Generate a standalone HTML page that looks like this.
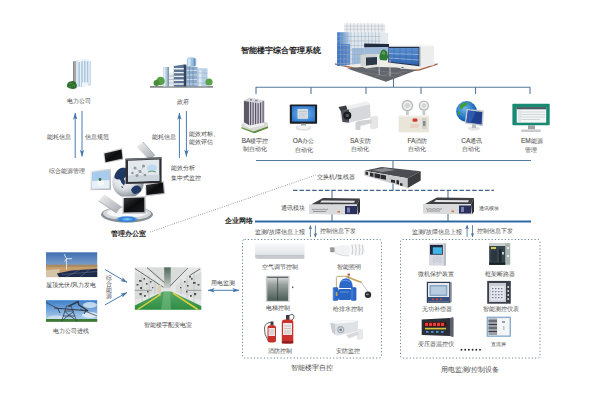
<!DOCTYPE html>
<html><head><meta charset="utf-8">
<style>
html,body{margin:0;padding:0;background:#fff;}
body{width:600px;height:400px;position:relative;overflow:hidden;font-family:"Liberation Sans",sans-serif;}
svg{position:absolute;left:0;top:0;}
.t{position:absolute;white-space:nowrap;color:#7a7a7a;-webkit-text-stroke:0.22px #7a7a7a;letter-spacing:0;}
.b{font-weight:bold;color:#3a3a3a;-webkit-text-stroke:0.55px #3a3a3a;}
.m{color:#707070;-webkit-text-stroke:0.3px #707070;}
.l{font-size:6.5px;-webkit-text-stroke:0.15px #7a7a7a;}
</style></head><body>
<svg width="600" height="400" viewBox="0 0 600 400">
<defs>
<marker id="ah" viewBox="0 0 10 10" refX="9.5" refY="5" markerWidth="7" markerHeight="4.4" orient="auto-start-reverse" markerUnits="userSpaceOnUse" preserveAspectRatio="none"><path d="M0,0 L10,5 L0,10 L2.5,5z" fill="#4677a8"/></marker>
<marker id="ah2" viewBox="0 0 10 10" refX="9.5" refY="5" markerWidth="4.2" markerHeight="3.6" orient="auto-start-reverse" markerUnits="userSpaceOnUse" preserveAspectRatio="none"><path d="M0,0 L10,5 L0,10 L2,5z" fill="#557596"/></marker>
</defs>
<g stroke="#55799b" stroke-width="1.1" fill="none">
<path d="M256,87.3H530.5M256,87V94M311,87V94M366,87V94M421,87V94M475.5,87V94M530,87V94M393.5,76V87"/>
<path d="M256,160.5H531M393,160V190M332,190V221M448,190V221"/>
</g>
<path d="M293,190.3H494" stroke="#45648a" stroke-width="1.3" stroke-dasharray="4.5,1.9" fill="none"/>
<path d="M255,221.5H531" stroke="#2f6aa3" stroke-width="2" fill="none"/>
<g stroke="#6c8494" stroke-width="1" stroke-dasharray="1.2,2.1" fill="none">
<rect x="242.5" y="239.5" width="139" height="118.5" rx="2"/>
<rect x="400.5" y="239.5" width="139.5" height="118.5" rx="2"/>
</g>
<path d="M150,232L316,175" stroke="#777" stroke-width="0.8" stroke-dasharray="0.9,1.4" fill="none"/>
<g stroke="#4a7bb0" stroke-width="1" fill="none">
<path d="M75.2,158V113" marker-end="url(#ah)"/>
<path d="M82,111V156.5" marker-end="url(#ah)"/>
<path d="M179.4,158V113" marker-end="url(#ah)"/>
<path d="M186.4,111V156.5" marker-end="url(#ah)"/>
<path d="M105,269.5L127,282.4" marker-end="url(#ah)"/>
<path d="M105,304.9L127,292.5" marker-end="url(#ah)"/>
<path d="M208,290.3H239" marker-start="url(#ah)" marker-end="url(#ah)"/>
<path d="M310.4,237V225.4" marker-end="url(#ah2)" stroke="#6a86a2"/>
<path d="M315.4,225.4V237.2" marker-end="url(#ah2)" stroke="#6a86a2"/>
<path d="M467.1,237V225.2" marker-end="url(#ah2)" stroke="#6a86a2"/>
<path d="M472.5,225.2V237" marker-end="url(#ah2)" stroke="#6a86a2"/>
</g>

<!-- main building -->
<g id="mainbld">
<defs>
<linearGradient id="mbg1" x1="0" y1="0" x2="1" y2="0"><stop offset="0" stop-color="#3f78c2"/><stop offset="0.45" stop-color="#7da7d8"/><stop offset="1" stop-color="#e6edf4"/></linearGradient>
<linearGradient id="mbg2" x1="0" y1="0" x2="0" y2="1"><stop offset="0" stop-color="#5b8fd0"/><stop offset="1" stop-color="#2f63b0"/></linearGradient>
</defs>
<!-- base slab -->
<polygon points="335,63.2 356,67.8 386,70.5 419,69.2 437.6,63.3 430,61.5 390,60 350,60.5" fill="#f0eee8"/>
<polygon points="335,63.2 356,67.8 386,70.5 419,69.2 437.6,63.3 437.6,64.8 419,70.8 386,72 356,69.3 335,64.7" fill="#a86a52"/>
<!-- plaza -->
<polygon points="347,68.5 386,81.8 416.5,70.2 396,67.5 366,66.5" fill="#62666b"/>
<path d="M356,71.5 L394,77 M368,69 L403,74.5 M375,76.5 L407,71" stroke="#8a8e93" stroke-width="0.4" fill="none"/>
<rect x="400" y="66.2" width="5" height="2.6" rx="1" fill="#dfe4e8"/>
<rect x="401.5" y="67" width="2" height="1" fill="#5a6a7a"/>
<!-- right block -->
<polygon points="388.2,44.5 420,44.2 434.1,45.5 434.1,47.4 419.4,47 388.2,47" fill="#f6f6f4"/>
<polygon points="419.4,46.8 434.1,46.5 434.1,65.2 419.4,66.2" fill="#eceeee"/>
<polygon points="419.4,46.8 421,46.8 421,66.1 419.4,66.2" fill="#c8cccc"/>
<polygon points="388.2,46.8 419.4,46.8 419.4,66.2 388.2,62.5" fill="#23304a"/>
<polygon points="389,48 418.6,48 418.6,65 389,61.8" fill="url(#mbg2)"/>
<path d="M389,53.5 L418.6,54.5 M389,58 L418.6,60" stroke="#a9c6ea" stroke-width="0.7" fill="none"/>
<path d="M394,48V62.5 M400,48V63.3 M406,48V64 M412,48V64.5" stroke="#3a5f9a" stroke-width="0.4" fill="none"/>
<!-- main glass upper tier -->
<polygon points="344,23.2 385.2,23.6 385.2,32.5 344,32.5" fill="#eef1f4"/>
<path d="M344,26.2H385.2 M344,29.3H385.2 M347,23.2V32.5 M350.5,23.2V32.5 M354,23.2V32.5 M357.5,23.2V32.5 M361,23.2V32.5 M364.5,23.3V32.5 M368,23.3V32.5 M371.5,23.4V32.5 M375,23.4V32.5 M378.5,23.5V32.5 M382,23.5V32.5" stroke="#a9b0b8" stroke-width="0.45" fill="none"/>
<!-- main facade -->
<polygon points="337.2,32.2 380.7,32.2 380.7,60 366,63 337.2,66" fill="#dfe7ef"/>
<polygon points="380.7,32.2 388.2,33 388.2,44.5 380.7,47" fill="#e4e8ec"/>
<polygon points="337.2,32.2 352,32.2 352,64.5 337.2,66" fill="url(#mbg1)"/>
<polygon points="337.2,44 350,44 350,64.8 337.2,66" fill="#3d72bd" opacity="0.75"/>
<polygon points="352,48 364,48 364,63.2 352,64.5" fill="#8fb0d8" opacity="0.8"/>
<path d="M337.2,36.5H380.7 M337.2,41H380.7 M337.2,45.5H380.7 M337.2,50H366 M337.2,54.5H366 M337.2,59H366 M337.2,63.5H352 M340.5,32.2V65.7 M344,32.2V65.3 M347.5,32.2V65 M351,32.2V64.6 M354.5,32.2V64.2 M358,32.2V63.9 M361.5,32.2V63.5 M365,32.2V63.1 M368.5,32.2V47 M372,32.2V47 M375.5,32.2V47 M379,32.2V47" stroke="#9aaabb" stroke-width="0.45" fill="none"/>
<!-- dark connector -->
<polygon points="364.2,43.5 389,44 389,47.2 364.2,47.5" fill="#1f2c40"/>
<polygon points="364.2,47.5 388.2,47.2 388.2,54 364.2,54.5" fill="#9fb9d8"/>
<!-- canopy -->
<polygon points="360.5,54.7 377,53.8 377,57 366,57.6 366,66 360.5,66.3" fill="#d2d4d2"/>
<polygon points="366,57.6 377,57 377,64.5 366,66" fill="#2a3848"/>
<polygon points="361,66.3 375,64.8 380,66.5 366,68.5" fill="#e4e2dc"/>
<!-- tree -->
<path d="M380,60 Q378.5,56 380.5,53 Q381,49.5 384,49.5 Q387.5,50.5 387.5,54 Q389,57.5 386.5,60.5z" fill="#2f7a35"/>
<path d="M381.5,54 Q382,51 384,51 Q385.5,52 385,55z" fill="#5a9e4e"/>
<path d="M379.2,58 V75 M390,60 V76" stroke="#d9dcdf" stroke-width="0.7"/>
</g>

<!-- management office -->
<g id="mgmt">
<defs>
<radialGradient id="glob" cx="0.38" cy="0.35" r="0.7"><stop offset="0" stop-color="#ffffff"/><stop offset="0.55" stop-color="#d9dde2"/><stop offset="1" stop-color="#7d848d"/></radialGradient>
<linearGradient id="slv" x1="0" y1="0" x2="1" y2="1"><stop offset="0" stop-color="#f2f3f4"/><stop offset="1" stop-color="#a4a8ad"/></linearGradient>
<linearGradient id="blk" x1="0" y1="0" x2="1" y2="1"><stop offset="0" stop-color="#3a3c40"/><stop offset="0.5" stop-color="#0b0c0e"/><stop offset="1" stop-color="#1c1d20"/></linearGradient>
<radialGradient id="glow" cx="0.5" cy="0.5" r="0.5"><stop offset="0" stop-color="#8fd0ff"/><stop offset="0.6" stop-color="#2a7ad6"/><stop offset="1" stop-color="#2a7ad6" stop-opacity="0"/></radialGradient>
</defs>
<ellipse cx="127" cy="214.5" rx="26" ry="8" fill="#8a9096"/>
<ellipse cx="127" cy="213.5" rx="24" ry="6.6" fill="#d4d7da"/>
<ellipse cx="127" cy="212.8" rx="20" ry="4.8" fill="#f7f8f9"/>
<ellipse cx="127" cy="219.2" rx="12" ry="3.6" fill="url(#glow)"/>
<polygon points="98.5,201 104.5,194.5 121.5,206.5 116.5,213" fill="url(#slv)"/>
<path d="M98.5,201 L116.5,213" stroke="#8d9297" stroke-width="0.6"/>
<circle cx="128" cy="182" r="15.8" fill="url(#glob)"/>
<path d="M114.5,176 Q116,170 121,168 Q126,167 128,169.5 L126,172 Q129,174 127,177 Q125,176 124,179 Q126,182 124,185.5 Q121,183 120,179.5 Q117,180 114.5,178z M121.5,186 q1.5,0 1.5,2 q-1.5,0.5 -1.5,-2z M131,190 Q133,185 138,185.5 Q142,187 141,191 Q137,195 133,193.5z" fill="#1f3763"/>
<polygon points="103,152.6 122.2,148 123.3,159.4 104.8,163.2" fill="url(#slv)"/>
<polygon points="104.3,153.5 121.5,149.5 122.4,158.6 105.6,162.2" fill="url(#blk)"/>
<polygon points="136.5,147 143,142 155,155.5 149.5,160" fill="url(#slv)"/>
<path d="M143,142 L155,155.5" stroke="#8d9297" stroke-width="0.6"/>
<polygon points="90.6,170.7 110.9,168.8 110.9,189.8 90.6,190.2" fill="url(#slv)"/>
<polygon points="92,172 109.5,170.3 109.5,188.4 92,188.8" fill="#a9cbec"/>
<polygon points="92,181 109.5,180 109.5,188.4 92,188.8" fill="#e6eef6"/>
<ellipse cx="100.5" cy="183" rx="3.5" ry="3" fill="#f6f8fa"/>
<circle cx="100" cy="179.5" r="1.4" fill="#2f6f4a"/>
<polygon points="144.7,184 164,181 165,194 145.5,196.4" fill="url(#slv)"/>
<polygon points="146,185 163,182.5 163.8,193 146.5,195" fill="url(#blk)"/>
<polygon points="125.5,158.8 161.6,157.3 161.6,183 125.5,184" fill="#2e3034"/>
<polygon points="125.5,158.8 161.6,157.3 161.6,158.8 125.5,160.3" fill="#6a6d72"/>
<polygon points="128,160.8 159.3,159.6 159.3,180.8 128,181.8" fill="#e3e8ec"/>
<polygon points="128,175.5 159.3,174.8 159.3,180.8 128,181.8" fill="#cdd5dc"/>
<g fill="#8d97a2"><circle cx="135" cy="168" r="1.5"/><circle cx="140" cy="171.5" r="1.5"/><circle cx="137" cy="175.5" r="1.5"/><circle cx="143.5" cy="166" r="1.5"/><circle cx="145" cy="175" r="1.3"/><circle cx="132.5" cy="173" r="1.2"/></g>
<path d="M135,168L140,171.5L137,175.5 M140,171.5L143.5,166 M140,171.5L145,175" stroke="#9aa4ae" stroke-width="0.4" fill="none"/>
<ellipse cx="152" cy="168" rx="5" ry="3.5" fill="#bcdaf0"/>
<path d="M148,172 q4,-2 8,0" stroke="#4a8a5a" stroke-width="0.8" fill="none"/>
<polygon points="122.2,196.6 145.8,196 145.8,213.5 122.2,214" fill="url(#slv)"/>
<polygon points="123.7,198 144.3,197.5 144.3,212 123.7,212.5" fill="url(#blk)"/>
</g>

<!-- distribution room -->
<g id="dist">
<defs>
<linearGradient id="flr" x1="0" y1="0" x2="0" y2="1"><stop offset="0" stop-color="#5aa86a"/><stop offset="1" stop-color="#2e8e42"/></linearGradient>
<linearGradient id="beam" x1="0" y1="0" x2="0" y2="1"><stop offset="0" stop-color="#4f6a5c"/><stop offset="0.5" stop-color="#8a9a90"/><stop offset="1" stop-color="#d0d6d2"/></linearGradient>
<linearGradient id="sky1" x1="0" y1="0" x2="0" y2="1"><stop offset="0" stop-color="#3f6fb2"/><stop offset="0.8" stop-color="#9cb9d8"/><stop offset="1" stop-color="#c9d8e6"/></linearGradient>
<linearGradient id="sky2" x1="0" y1="0" x2="0" y2="1"><stop offset="0" stop-color="#3d7fca"/><stop offset="1" stop-color="#bcd8f0"/></linearGradient>
</defs>
<rect x="134.8" y="267.4" width="66.5" height="42.3" fill="#e4e7e5"/>
<polygon points="134.8,272 160,285 160,292 134.8,300" fill="#d9dcda"/>
<polygon points="201.3,272 176,285 176,292 201.3,300" fill="#d9dcda"/>
<path d="M142,271.5V302.5 M149,275V298.5 M155,279V294.5 M194,271.5V302.5 M187,275V298.5 M181,279V294.5" stroke="#b9bebb" stroke-width="0.6"/>
<polygon points="147,267.4 186,267.4 171,286 164,286" fill="#d9dcda"/>
<rect x="164.2" y="267.4" width="6.5" height="21" fill="url(#beam)"/>
<path d="M134.8,268.5 L163.6,287.4 M147,267.6 L164.5,282.6 M187.8,268 L170,286.2 M200,269 L189.5,275.6" stroke="#5b615f" stroke-width="0.9" fill="none"/>
<path d="M134.8,290.3 H152 M186,290.3 H201.3" stroke="#8f9593" stroke-width="0.9"/>
<g fill="#4d5351">
<rect x="139" y="280" width="2.5" height="1.8"/><rect x="136.5" y="284" width="2" height="1.5"/><rect x="143.5" y="278" width="1.6" height="1.6"/><rect x="144" y="295" width="1.8" height="1.8"/><rect x="150" y="281" width="1.5" height="1.5"/><rect x="197.5" y="284" width="2" height="1.5"/><rect x="191" y="278" width="1.6" height="1.6"/><rect x="190" y="295" width="1.8" height="1.8"/><rect x="184" y="281" width="1.5" height="1.5"/><rect x="140" y="287" width="2" height="2"/><rect x="146" y="283" width="1.6" height="1.6"/><rect x="139.5" y="293" width="2.2" height="2.2"/><rect x="147" y="291" width="1.5" height="1.5"/><rect x="152" y="287" width="1.3" height="1.3"/>
<rect x="193" y="282" width="2.6" height="1.8"/><rect x="194" y="293" width="2.2" height="2.2"/><rect x="187" y="285" width="1.6" height="1.6"/><rect x="186" y="291" width="1.5" height="1.5"/><rect x="180" y="287" width="1.3" height="1.3"/><rect x="189" y="276" width="2" height="1.6"/>
</g>
<polygon points="134.8,305.6 163,291.5 171,291.5 201.3,306 201.3,309.7 134.8,309.7" fill="url(#flr)"/>
<polygon points="164,291.5 170,291.5 171,309.7 161,309.7" fill="#7cc08a" opacity="0.55"/>
<path d="M137.7,309.5 L160.5,294.3 M173,293.2 L197.8,309.5" stroke="#dcd23c" stroke-width="1.5" fill="none"/>
<path d="M158,294.5 q-1.5,-4 0,-9 q2,-1.5 3,0 q1,5 -0.5,9z" fill="#ddd0b8"/>
</g>
<!-- solar -->
<g id="solar">
<rect x="46" y="252.3" width="51.2" height="24.8" fill="url(#sky1)"/>
<rect x="46" y="265.1" width="51.2" height="12" fill="#c79e6a"/>
<rect x="46" y="264.6" width="51.2" height="2.2" fill="#a98a66"/>
<polygon points="46,270 60,269 58,277.1 46,277.1" fill="#d6c4a8"/>
<polygon points="56.8,273.4 71.5,270.6 97.2,268.8 97.2,277.1 59.1,277.1" fill="#1f2b4d"/>
<path d="M66,277 L80,269.8 M80,277 L90,269 M62,274.5 L97,271.5" stroke="#6a7896" stroke-width="0.5" fill="none"/>
<path d="M66.5,258.7 V269.7" stroke="#e8ecf0" stroke-width="0.8"/>
<path d="M66.5,258.7 L64.2,254.1 M66.5,258.7 L72,258.7 M66.5,258.7 L64.6,261.5" stroke="#f4f6f8" stroke-width="0.8" fill="none"/>
</g>
<!-- power line -->
<g id="pline">
<rect x="46" y="300.2" width="51.2" height="21.6" fill="url(#sky2)"/>
<ellipse cx="90" cy="305" rx="7" ry="3" fill="#dce9f6" opacity="0.8"/>
<ellipse cx="90" cy="315" rx="8" ry="3" fill="#e6f0f8" opacity="0.85"/>
<ellipse cx="56" cy="318" rx="9" ry="2.5" fill="#d4e4f2" opacity="0.8"/>
<rect x="46" y="319" width="51.2" height="2.8" fill="#3f7a34"/>
<path d="M46,302.5 L58,308.5 M78,302 L68,307 M80,309 L97,316" stroke="#2a3340" stroke-width="0.7" fill="none"/>
<path d="M61.4,321.8 L66.5,306 L71,306 L77,321.8 M63,316 L75,316 M64.5,311 L73.5,311 M62.5,320 L73.8,311.5 M75.5,320 L64.8,311.5" stroke="#3a424c" stroke-width="0.8" fill="none"/>
<path d="M54.1,308 L88,310.8 M58,309 L60,313 M86,310.5 L84,314" stroke="#333b45" stroke-width="1" fill="none"/>
<path d="M68.8,306 L78,301.5 L79,305 L88,310.8" stroke="#2e3640" stroke-width="1.3" fill="none"/>
</g>

<!-- BA row -->
<g id="ba">
<polygon points="241.5,124 255,118.5 268,123 268,126.5 254,131.5 241.5,127" fill="#d8d8d6"/>
<polygon points="241.5,127 254,131.5 268,126.5 268,128 254,133.2 241.5,128.6" fill="#6f9a4a"/>
<polygon points="254,131.5 268,126.5 268,128 254,133.2" fill="#5e8a3c"/>
<polygon points="243.9,101 249.2,98 249.2,125.5 243.9,122.5" fill="#5b5966"/>
<polygon points="249.2,98 264.6,101 264.6,124 249.2,127" fill="#cfc9d8"/>
<path d="M250.6,98.5V126.7 M253.1,99V126.2 M255.6,99.5V125.7 M258.1,100V125.2 M260.6,100.5V124.7 M263.1,100.8V124.3" stroke="#55525f" stroke-width="1.1"/>
<polygon points="243.9,101 249.2,97.5 264.6,100.6 259,103.2" fill="#d8d8dc"/>
<rect x="250" y="99" width="2" height="1.5" fill="#8a8a90"/><rect x="255" y="99.8" width="2.5" height="1.5" fill="#8a8a90"/>
<polygon points="244.5,122.5 249.2,125.5 264.2,122.5 264.2,125.2 249.2,128.3 244.5,125.3" fill="#f0f0f0"/>
</g>
<g id="oa">
<rect x="289.8" y="104.5" width="27.3" height="19.2" rx="0.8" fill="#1b1e22"/>
<defs><radialGradient id="oascr" cx="0.5" cy="0.5" r="0.6"><stop offset="0" stop-color="#78b8ee"/><stop offset="1" stop-color="#2c78cf"/></radialGradient></defs>
<rect x="291.9" y="106.2" width="23.1" height="15.4" fill="url(#oascr)"/>
<rect x="297.5" y="109" width="10.5" height="9.8" fill="#d8dde2"/>
<path d="M299,111.5H306.5 M299,113.8H306.5 M299,116H305" stroke="#aab3bc" stroke-width="0.5"/>
<rect x="301" y="123.7" width="5" height="2.5" fill="#9ea3a8"/>
<ellipse cx="303.5" cy="128" rx="8" ry="2.7" fill="#dfe1e3"/>
<ellipse cx="303.5" cy="127.3" rx="6" ry="1.6" fill="#f3f4f5"/>
</g>
<g id="sa">
<polygon points="370,117 376,115.5 378,117 378,128 372,129.5 370,128" fill="#e6e6e6"/>
<path d="M357,121 L371,119.5 L372,123 L361,126z" fill="#d2d3d5"/>
<rect x="355.5" y="122" width="5" height="8" rx="1" fill="#cfd0d2"/>
<polygon points="339,107.5 366,101.5 370,103 370.5,117.5 346,123.5 341,121" fill="#eeeff0"/>
<polygon points="346,110 370,104.5 370.5,117.5 346,123.5" fill="#d7d8db"/>
<polygon points="338.5,107 346,105.5 347.5,109.5 341,111.5" fill="#3a3d42"/>
<polygon points="341,111 349,109.5 349,122.5 342.5,122" fill="#494c52"/>
<circle cx="347.3" cy="115.5" r="4" fill="#1a1c20"/>
<circle cx="347.3" cy="115.5" r="1.8" fill="#4d5766"/>
</g>
<g id="fa">
<circle cx="407.4" cy="105.6" r="5.8" fill="#b9bbbd"/>
<circle cx="407.4" cy="105.6" r="4.3" fill="#eceeef"/>
<circle cx="407.4" cy="105.6" r="2.5" fill="#d1d3d5"/>
<circle cx="423.9" cy="105.6" r="5.2" fill="#b9bbbd"/>
<circle cx="423.9" cy="105.6" r="3.8" fill="#eceeef"/>
<circle cx="423.9" cy="105.6" r="2.2" fill="#d1d3d5"/>
<rect x="406" y="111" width="2.8" height="4" fill="#c6c8ca"/>
<rect x="422.5" y="110.5" width="2.8" height="4.5" fill="#c6c8ca"/>
<rect x="398.7" y="115" width="30.3" height="17.3" fill="#e9e5d9"/>
<rect x="398.7" y="115" width="30.3" height="1.6" fill="#f6f4ee"/>
<rect x="412.5" y="118.5" width="5" height="3.2" rx="1.2" fill="#d23a32"/>
<path d="M410,125H419 M410,127H418" stroke="#e09a94" stroke-width="0.5"/>
<rect x="422" y="118" width="4.5" height="11" fill="#cfd0cd"/>
<rect x="423" y="121" width="2.5" height="5" fill="#8a8c8e"/>
</g>
<g id="ca">
<defs><radialGradient id="glb" cx="0.4" cy="0.35" r="0.7"><stop offset="0" stop-color="#6fb6ea"/><stop offset="0.7" stop-color="#1f6cbd"/><stop offset="1" stop-color="#114a94"/></radialGradient></defs>
<circle cx="466.5" cy="111.5" r="10.4" fill="url(#glb)"/>
<path d="M460,105 q3,-3 7,-2.5 q1,2 -1.5,3.5 q-2.5,0.5 -3,3 q-2,1 -2.5,-1.5z M458,111 q2,0 2.5,2.5 q-1,2 -2.5,1z M468,102 q2,-0.5 3.5,0.8 q-1,1 -3.5,-0.8z" fill="#3f9e3a"/>
<ellipse cx="474" cy="128.5" rx="6" ry="2" fill="#e2e4e6"/>
<rect x="472" y="124" width="4" height="4" fill="#b7bbbf"/>
<polygon points="466.5,108.9 483.8,110.6 483,126.2 464.7,123.6" fill="#c5cacf"/>
<polygon points="468,110.5 482.3,112 481.6,124.6 466.3,122.3" fill="#1f3f8f"/>
<polygon points="468,110.5 476,111.3 471,122.8 466.3,122.3" fill="#2f5cb0"/>
</g>
<g id="em">
<rect x="512.4" y="103.7" width="37.3" height="21.6" rx="0.8" fill="#178a72"/>
<rect x="516.7" y="107.1" width="29.5" height="15.6" fill="#f4f6f6"/>
<rect x="516.7" y="107.1" width="29.5" height="2.2" fill="#4a5560"/>
<path d="M518,112H545 M518,114.5H545 M518,117H545 M518,119.5H540" stroke="#b9c2c5" stroke-width="0.6"/>
<rect x="518" y="110.5" width="3" height="11" fill="#dfe4e6"/>
<rect x="528" y="125.3" width="7" height="4" fill="#9ea3a6"/>
<rect x="521" y="129.5" width="20" height="2.4" rx="1" fill="#c9ccce"/>
</g>

<!-- power company bldg -->
<g id="pc">
<polygon points="73,61.5 76.5,60.7 78.6,61.2 78.6,87 76.5,86.5 73,84.8" fill="#a4a8ac"/>
<polygon points="76.2,60.8 78.6,61.2 78.6,87 76.2,86.5" fill="#f2f4f5"/>
<polygon points="73,61.5 73.8,61.3 73.8,85.2 73,84.8" fill="#7d8186"/>
<polygon points="77.5,60.5 84,59 91,60 91,85.5 78.6,87 77.5,86.8" fill="#c8dcec"/>
<polygon points="77.5,60.5 84,59 91,60 91,61.5 84,60.5 78.6,62" fill="#f7f9fb"/>
<path d="M80.5,61.5V86.5 M83.3,61V86.2 M86.2,61V86 M89,61.2V85.7" stroke="#eef4f8" stroke-width="0.9"/>
<path d="M79.2,62V86.6 M82,61.5V86.3 M84.8,61V86.1 M87.6,61.2V85.8" stroke="#8fb0cc" stroke-width="0.6"/>
<rect x="82" y="82.5" width="6" height="3.5" fill="#f2f4f6"/>
<path d="M67,87 Q66.5,82.5 70,81.5 Q73,80.2 75.5,82 Q77.5,84.5 76.5,88 Q72,90.5 67,87z" fill="#2f6e2f"/>
<path d="M69,84 q1.5,-1.5 3,0 M72,86 q1.5,-1.5 3,0 M68.5,87 q1.5,-1 2.5,0" stroke="#5a9e4e" stroke-width="0.7" fill="none"/>
</g>
<!-- government bldg -->
<g id="gov">
<rect x="150" y="86.2" width="63" height="1.4" fill="#6a6f72"/>
<rect x="163.1" y="67" width="5.9" height="19.4" fill="#b4cadc"/>
<rect x="163.6" y="67" width="1.8" height="19.4" fill="#e4eef6"/>
<rect x="167.5" y="67" width="1.5" height="19.4" fill="#7d98b2"/>
<rect x="169" y="72.5" width="6" height="13.9" fill="#e9ecef"/>
<path d="M169,76H175 M169,79.5H175 M169,83H175" stroke="#9aa8b6" stroke-width="0.6"/>
<rect x="197.5" y="68.3" width="10" height="18.1" fill="#b9d0e4"/>
<rect x="199" y="70" width="2.5" height="16" fill="#dde9f3"/>
<path d="M197.5,73H207.5 M197.5,78H207.5 M197.5,83H207.5" stroke="#8eaac4" stroke-width="0.5"/>
<polygon points="173.8,66 184,64.5 184,86.4 173.8,86.4" fill="#5e7693"/>
<path d="M174,68.8H184 M174,72.6H184 M174,76.4H184 M174,80.2H184 M174,84H184" stroke="#eef1f4" stroke-width="1.4"/>
<polygon points="186.2,66 197.5,67 197.5,86.4 186.2,86.4" fill="#8eaccb"/>
<path d="M186.5,70.5H197 M186.5,75H197 M186.5,79.5H197 M186.5,84H197" stroke="#d2e2f0" stroke-width="0.9"/>
<path d="M189.5,66.5V86 M193,66.8V86" stroke="#5d7a98" stroke-width="0.5"/>
<rect x="183.8" y="64.5" width="2.5" height="21.9" fill="#34465c"/>
<rect x="186.9" y="57.6" width="9.4" height="8.8" rx="2.5" fill="#9cc0e0"/>
<rect x="187.8" y="58.5" width="2.8" height="7.5" fill="#d4e6f4"/>
<rect x="193.5" y="58.5" width="1.8" height="7.5" fill="#6f94b8"/>
<circle cx="160.5" cy="81" r="4.3" fill="#5aa24a"/>
<circle cx="156.5" cy="83" r="3" fill="#468d3a"/>
<circle cx="209" cy="82" r="3.6" fill="#5aa24a"/>
</g>
<!-- switch -->
<g id="sw">
<polygon points="364.3,170.7 381.7,166.9 420.7,171.2 407.7,178.3" fill="#4b4d52"/>
<polygon points="372,170 385,168 395,170 382,172" fill="#8a8c90"/>
<polygon points="364.3,170.7 407.7,178.3 407.7,188 364.3,175.5" fill="#c9cbcd"/>
<polygon points="407.7,178.3 420.7,171.2 420.7,180.5 407.7,188" fill="#3a3c40"/>
<g fill="#2a2c30">
<polygon points="365.5,171.5 368,172 368,175 365.5,174.6"/>
<polygon points="370,172.5 373.5,173.2 373.5,177 370,176.3"/>
<polygon points="374.5,173.3 380,174.3 380,178.5 374.5,177.5"/>
<polygon points="380.5,174.5 386,175.5 386,179.8 380.5,178.8"/>
<polygon points="391,179.5 395,180.2 395,183 391,182.3"/>
<polygon points="396.5,180 399,180.5 399,184.5 396.5,184"/>
<polygon points="400,183 402.5,183.5 402.5,186 400,185.5"/>
</g>
</g>
<!-- comm modules -->
<g id="cm1">
<polygon points="311,204.5 323,198 360,198.5 357,204.5" fill="#3e4044"/>
<polygon points="322,200.5 355,200.8 354,202.8 320,202.5" fill="#e4e5e6"/>
<polygon points="309,204.5 358,204.5 358,215 309,214" fill="#d9dadb"/>
<polygon points="357,204.5 360,198.5 360,212 358,215" fill="#2f3135"/>
<rect x="345" y="206" width="12" height="8" fill="#2b2f5e"/>
<rect x="347" y="207.5" width="3" height="5" fill="#7a80b0"/>
<rect x="337.5" y="211" width="2.5" height="1.6" fill="#d8743a"/>
<path d="M312,209 q2,2 4,0 q2,2 4,0 q2,2 4,0 q2,2 4,0 M313,211.5 H326" stroke="#6a6c70" stroke-width="0.6" fill="none"/>
</g>
<use href="#cm1" transform="translate(114,-0.5)"/>

<!-- left box devices -->
<g id="ac">
<defs><linearGradient id="acg" x1="0" y1="0" x2="0" y2="1"><stop offset="0" stop-color="#f7f8f9"/><stop offset="0.7" stop-color="#e3e6e9"/><stop offset="1" stop-color="#b9bdc2"/></linearGradient></defs>
<path d="M256.5,243.5 H303 Q304.5,243.5 304.5,245 V257.5 Q304.5,258.8 303,258.8 H257.5 Q255,258.8 255,256.5 V245.5 Q255,243.5 256.5,243.5z" fill="url(#acg)"/>
<path d="M255.5,255.8 H304" stroke="#a5a9ae" stroke-width="0.6"/>
<path d="M255.5,244 H304" stroke="#fafbfc" stroke-width="0.8"/>
</g>
<g id="elev">
<rect x="265.8" y="275.8" width="23.7" height="26" fill="#c9ccce"/>
<defs><linearGradient id="elg" x1="0" y1="0" x2="0" y2="1"><stop offset="0" stop-color="#d9dcdc"/><stop offset="0.3" stop-color="#9aa29f"/><stop offset="1" stop-color="#4a5c56"/></linearGradient></defs>
<rect x="267.3" y="277.3" width="20.7" height="23.5" fill="url(#elg)"/>
<path d="M277.65,277.3V300.8" stroke="#2e3d38" stroke-width="0.7"/>
<path d="M267.3,277.3H288" stroke="#4a4f52" stroke-width="1"/>
<rect x="292" y="286.5" width="1.3" height="1.6" fill="#555"/>
</g>
<g id="bulb">
<rect x="329.9" y="247.3" width="5" height="5" rx="1" fill="#a4a6a8"/>
<path d="M331,248.3H334 M331,250H334 M331,251.5H334" stroke="#6d7073" stroke-width="0.4"/>
<path d="M334.8,246.5 Q342,244.5 349.5,245 V256 Q342,256.5 334.8,253z" fill="#f1f2f3"/>
<path d="M334.8,253 Q342,256.5 349.5,256" stroke="#c9cbcd" stroke-width="0.6" fill="none"/>
<rect x="349.4" y="244" width="15.4" height="11.4" rx="4.5" fill="#f5f6f7"/>
<path d="M352,244.5 Q353.5,249.7 352,255 M355.5,244.3 Q357,249.7 355.5,255.2 M359,244.3 Q360.5,249.7 359,255.2 M362.3,244.8 Q363.5,249.7 362.3,254.8" stroke="#b8bbbe" stroke-width="0.7" fill="none"/>
</g>
<g id="valve">
<path d="M336.4,296 V277.5 Q336.6,276.3 338,276.3 H348" stroke="#bfa060" stroke-width="0.9" fill="none"/>
<path d="M346,276.5 L361.6,282.6" stroke="#c4a45a" stroke-width="1.6" fill="none"/>
<path d="M361.6,282.6 L368,292" stroke="#8c8a80" stroke-width="0.5" fill="none"/>
<circle cx="368" cy="294.8" r="3.2" fill="#2a2c30"/>
<ellipse cx="367.4" cy="294.3" rx="1.6" ry="0.9" fill="#8a8d92"/>
<rect x="347.5" y="273.5" width="2.6" height="2" rx="0.8" fill="#c8504a"/>
<rect x="348.2" y="275.3" width="1.2" height="3" fill="#9a8a70"/>
<path d="M339.2,288 Q339,279 346,278.3 Q352.8,279 352.8,288z" fill="#2c68c8"/>
<rect x="338" y="289" width="13.5" height="11" rx="2" fill="#2a64c2"/>
<rect x="332.8" y="287.2" width="5.4" height="13.6" rx="1.2" fill="#2b66c6"/>
<rect x="351" y="287.2" width="5.4" height="13.6" rx="1.2" fill="#2b66c6"/>
<path d="M333.8,288.5V299.5 M352,288.5V299.5" stroke="#6aa2ec" stroke-width="0.7"/>
<path d="M341,281 Q346,279.3 350,281.5 M340,292 H349" stroke="#6aa6f0" stroke-width="0.8" fill="none"/>
<rect x="335.8" y="292" width="1.6" height="4" fill="#c8a858"/>
</g>
<g id="fire">
<path d="M272,322.5 Q265,322 264.5,328 Q264,335 268,340" stroke="#3a3a3a" stroke-width="0.8" fill="none"/>
<rect x="270.5" y="321.5" width="3" height="4" fill="#3a3c3e"/>
<rect x="267.5" y="325.3" width="8.5" height="17.3" rx="2.5" fill="#c8302c"/>
<rect x="268.5" y="328" width="6.5" height="8" fill="#ece6e4"/>
<path d="M269,330H274.5 M269,332H274.5 M269,334H274" stroke="#9a8a88" stroke-width="0.4"/>
<path d="M288,316 Q293,313 294,316 Q294.5,318 292,320" stroke="#3a3a3a" stroke-width="0.8" fill="none"/>
<rect x="286" y="315" width="3.5" height="5" fill="#3a3c3e"/>
<rect x="281.8" y="319.6" width="11.5" height="23.9" rx="3" fill="#cc322d"/>
<rect x="283" y="323" width="9" height="12" fill="#ede8e6"/>
<path d="M284,326H291 M284,328.5H291 M284,331H291 M284,333H290" stroke="#a89694" stroke-width="0.45"/>
<rect x="281.8" y="341" width="11.5" height="2.5" fill="#8e2220"/>
</g>
<g id="cam2">
<polygon points="356.8,329.5 361,328.7 363,329.8 363,339 359,339.9 356.8,339" fill="#e6e8ea"/>
<polygon points="346,335 357,331.5 359,334.5 349,338.5" fill="#d8dadd"/>
<polygon points="330.2,323.1 335,320.5 358.2,320.3 357.5,331 338,335.5 335.1,335" fill="#eceef0"/>
<polygon points="335.1,323.8 358.2,320.8 357.5,331 338,335.5 335.1,335" fill="#dfe2e5"/>
<polygon points="330.2,323.1 335,320.5 358.2,320.3 353,322.5 335.1,323.8" fill="#f6f7f8"/>
<polygon points="330.2,323.1 335.1,323.8 335.1,335 332,332" fill="#c9cdd2"/>
<circle cx="340.7" cy="329.7" r="3.6" fill="#a6b0bb"/>
<circle cx="340.7" cy="329.7" r="2.3" fill="#dfe5ea"/>
<circle cx="340.7" cy="329.7" r="1.3" fill="#6a7684"/>
</g>

<!-- right box devices -->
<g id="relay">
<polygon points="428.9,243.5 444,243 446,244 446,265.3 444,265.8 428.9,265.6" fill="#d6dae0"/>
<rect x="444" y="243.2" width="2" height="22.4" fill="#b9bec5"/>
<rect x="430" y="244.9" width="12.8" height="9.8" fill="#1f2a40"/>
<rect x="432.8" y="247.3" width="9.2" height="6.6" fill="#42b4e6"/>
<g fill="#eef0f3" stroke="#9aa0a8" stroke-width="0.4"><circle cx="434" cy="258.5" r="1"/><circle cx="437" cy="257" r="1"/><circle cx="440" cy="258.5" r="1"/><circle cx="437" cy="260" r="1"/><circle cx="434" cy="261.5" r="0.9"/><circle cx="440" cy="261.5" r="0.9"/></g>
</g>
<g id="breaker">
<rect x="489.2" y="243.1" width="21" height="21.7" fill="#a9b6b0"/>
<rect x="489.2" y="243.1" width="16" height="3" fill="#c9d0cc"/>
<rect x="489.2" y="246" width="16" height="18.8" fill="#37454f"/>
<rect x="491" y="247" width="5" height="2" fill="#d8c85a"/>
<rect x="491" y="250.5" width="6" height="11" fill="#2a3640"/>
<rect x="499" y="249" width="2.5" height="13" fill="#1e282f"/>
<rect x="502" y="252" width="2" height="2.5" fill="#c9ced0"/>
<rect x="489.2" y="262.5" width="16" height="2.3" fill="#1b2227"/>
<rect x="507" y="247" width="2" height="2" fill="#e6ecea"/><rect x="507" y="255" width="2" height="2" fill="#e6ecea"/>
</g>
<g id="comp">
<rect x="426.8" y="281.8" width="23.6" height="21" fill="#2e3a52"/>
<rect x="428" y="283" width="21.2" height="18.5" fill="#e5e8ec"/>
<rect x="429.5" y="285" width="17.8" height="11" fill="#8aa6c6"/>
<rect x="431" y="286.5" width="14.8" height="8" fill="#b8cde2"/>
<rect x="428" y="297" width="21.2" height="4.5" fill="#34507e"/>
<g fill="#d8443a"><circle cx="433" cy="299.2" r="1"/><circle cx="437" cy="299.2" r="1"/><circle cx="441" cy="299.2" r="1"/></g>
<rect x="450.4" y="282.3" width="1.2" height="20" fill="#6a7180"/>
</g>
<g id="meter">
<rect x="487.2" y="280.9" width="23.6" height="22.8" fill="#3b3f4a"/>
<rect x="489" y="283" width="17" height="19" fill="#c9ced6"/>
<rect x="490.5" y="286" width="14" height="14.5" fill="#e4e8ee"/>
<g fill="#7a8290">
<rect x="492" y="288" width="1.5" height="1.2"/><rect x="495" y="288" width="1.5" height="1.2"/><rect x="498" y="288" width="1.5" height="1.2"/><rect x="501" y="288" width="1.5" height="1.2"/>
<rect x="492" y="291" width="1.5" height="1.2"/><rect x="495" y="291" width="1.5" height="1.2"/><rect x="498" y="291" width="1.5" height="1.2"/><rect x="501" y="291" width="1.5" height="1.2"/>
<rect x="492" y="294" width="1.5" height="1.2"/><rect x="495" y="294" width="1.5" height="1.2"/><rect x="498" y="294" width="1.5" height="1.2"/><rect x="501" y="294" width="1.5" height="1.2"/>
<rect x="492" y="297" width="1.5" height="1.2"/><rect x="495" y="297" width="1.5" height="1.2"/><rect x="498" y="297" width="1.5" height="1.2"/><rect x="501" y="297" width="1.5" height="1.2"/>
</g>
<g fill="#dfe3e8"><circle cx="508.2" cy="287" r="0.9"/><circle cx="508.2" cy="291" r="0.9"/><circle cx="508.2" cy="295" r="0.9"/><circle cx="508.2" cy="299" r="0.9"/></g>
</g>
<g id="tempc">
<polygon points="421.7,319.5 450,318 453.3,317.2 453.3,337 450,336 421.7,335" fill="#2b2f37"/>
<rect x="450" y="318" width="3.3" height="18" fill="#5b606a"/>
<rect x="424" y="322" width="23" height="5" fill="#3a1a1c"/>
<g fill="#ee3a30"><rect x="425" y="322.8" width="3" height="3.2"/><rect x="429" y="322.8" width="3" height="3.2"/><rect x="433" y="322.8" width="3" height="3.2"/><rect x="437" y="322.8" width="3" height="3.2"/><rect x="441" y="322.8" width="3" height="3.2"/></g>
<rect x="425" y="327.8" width="21" height="1.6" fill="#d6c23a"/>
<g fill="#4a9ad6"><rect x="426" y="331" width="2.5" height="1.8"/><rect x="431" y="331" width="2.5" height="1.8"/><rect x="436" y="331" width="2.5" height="1.8"/><rect x="441" y="331" width="2.5" height="1.8"/></g>
</g>
<g id="dcp">
<rect x="486.7" y="316.7" width="24.1" height="20" fill="#6a9ac6"/>
<rect x="487.7" y="317.7" width="22.1" height="18" fill="#e2e5e8"/>
<rect x="488.5" y="318.5" width="8.5" height="16.5" fill="#9aa0a6"/>
<path d="M488.5,321H497 M488.5,324.5H497 M488.5,328H497 M488.5,331.5H497" stroke="#3a3e44" stroke-width="1.2"/>
<rect x="497.5" y="318.5" width="11.5" height="16.5" fill="#f4f5f6"/>
<rect x="502" y="321" width="3" height="2" fill="#9aa0a6"/>
<rect x="503" y="326" width="1.5" height="4" fill="#c0c5ca"/>
</g>
<g fill="#2a2c30"><circle cx="461.5" cy="349.7" r="0.95"/><circle cx="465.2" cy="349.7" r="0.95"/><circle cx="468.9" cy="349.7" r="0.95"/><circle cx="472.6" cy="349.7" r="0.95"/><circle cx="476.3" cy="349.7" r="0.95"/><circle cx="480" cy="349.7" r="0.95"/></g>
<!-- ICONS -->
</svg>
<!-- TEXT -->
<div class="t" style="left:66.9px;top:97.4px;font-size:8.00px;line-height:8.00px">电力公司</div>
<div class="t" style="left:176.5px;top:98.0px;font-size:8.00px;line-height:8.00px">政府</div>
<div class="t" style="left:46.2px;top:134.4px;font-size:7.80px;line-height:7.80px">能耗信息</div>
<div class="t" style="left:84.4px;top:134.4px;font-size:7.87px;line-height:7.87px">信息规范</div>
<div class="t" style="left:48.9px;top:168.2px;font-size:7.87px;line-height:7.87px">综合能源管理</div>
<div class="t" style="left:151.4px;top:134.1px;font-size:7.73px;line-height:7.73px">能耗信息</div>
<div class="t" style="left:189.1px;top:131.7px;font-size:7.87px;line-height:7.87px">能效对标、</div>
<div class="t" style="left:189.1px;top:139.6px;font-size:7.93px;line-height:7.93px">能效评估</div>
<div class="t" style="left:170.4px;top:165.1px;font-size:7.80px;line-height:7.80px">能效分析</div>
<div class="t" style="left:170.4px;top:175.6px;font-size:7.93px;line-height:7.93px">集中式监控</div>
<div class="t b" style="left:110.8px;top:229.5px;font-size:8.96px;line-height:8.96px">管理办公室</div>
<div class="t b" style="left:240.4px;top:46.1px;font-size:10.83px;line-height:10.83px">智能楼宇综合管理系统</div>
<div class="t" style="left:241.4px;top:137.9px;font-size:7.73px;line-height:7.73px"><span class="l">BA</span>楼宇控</div>
<div class="t" style="left:243.0px;top:146.3px;font-size:7.73px;line-height:7.73px">制自动化</div>
<div class="t" style="left:292.4px;top:137.8px;font-size:8.00px;line-height:8.00px"><span class="l">OA</span>办公</div>
<div class="t" style="left:294.1px;top:146.2px;font-size:8.00px;line-height:8.00px">自动化</div>
<div class="t" style="left:349.6px;top:137.8px;font-size:8.00px;line-height:8.00px"><span class="l">SA</span>安防</div>
<div class="t" style="left:351.1px;top:146.3px;font-size:7.73px;line-height:7.73px">自动化</div>
<div class="t" style="left:407.1px;top:137.8px;font-size:8.00px;line-height:8.00px"><span class="l">FA</span>消防</div>
<div class="t" style="left:407.4px;top:146.2px;font-size:7.87px;line-height:7.87px">自动化</div>
<div class="t" style="left:460.8px;top:137.7px;font-size:8.00px;line-height:8.00px"><span class="l">CA</span>通讯</div>
<div class="t" style="left:461.9px;top:146.2px;font-size:7.87px;line-height:7.87px">自动化</div>
<div class="t" style="left:520.6px;top:137.7px;font-size:8.00px;line-height:8.00px"><span class="l">EM</span>能源</div>
<div class="t" style="left:524.6px;top:146.2px;font-size:8.00px;line-height:8.00px">管理</div>
<div class="t" style="left:316.9px;top:173.5px;font-size:7.87px;line-height:7.87px">交换机<span class="l">/</span>集线器</div>
<div class="t" style="left:280.7px;top:205.4px;font-size:7.53px;line-height:7.53px">通讯模块</div>
<div class="t" style="left:479.1px;top:205.7px;font-size:7.33px;line-height:7.33px">通讯模块</div>
<div class="t b" style="left:224.8px;top:216.9px;font-size:9.00px;line-height:9.00px">企业网络</div>
<div class="t" style="left:254.4px;top:228.0px;font-size:8.00px;line-height:8.00px">监测<span class="l">/</span>故障信息上报</div>
<div class="t" style="left:319.4px;top:228.1px;font-size:7.77px;line-height:7.77px">控制信息下发</div>
<div class="t" style="left:411.3px;top:228.5px;font-size:8.07px;line-height:8.07px">监测<span class="l">/</span>故障信息上报</div>
<div class="t" style="left:476.2px;top:228.2px;font-size:7.93px;line-height:7.93px">控制信息下发</div>
<div class="t" style="left:261.6px;top:264.3px;font-size:7.67px;line-height:7.67px">空气调节控制</div>
<div class="t" style="left:336.3px;top:264.3px;font-size:7.67px;line-height:7.67px">智能照明</div>
<div class="t" style="left:265.3px;top:305.2px;font-size:7.67px;line-height:7.67px">电梯控制</div>
<div class="t" style="left:332.6px;top:305.1px;font-size:8.11px;line-height:8.11px">给排水控制</div>
<div class="t" style="left:267.3px;top:348.8px;font-size:7.67px;line-height:7.67px">消防控制</div>
<div class="t" style="left:335.7px;top:348.8px;font-size:7.87px;line-height:7.87px">安防监控</div>
<div class="t m" style="left:290.2px;top:364.3px;font-size:9.27px;line-height:9.27px">智能楼宇自控</div>
<div class="t" style="left:417.9px;top:270.3px;font-size:8.00px;line-height:8.00px">微机保护装置</div>
<div class="t" style="left:484.2px;top:270.2px;font-size:8.27px;line-height:8.27px">框架断路器</div>
<div class="t" style="left:421.3px;top:305.6px;font-size:8.00px;line-height:8.00px">无功补偿器</div>
<div class="t" style="left:482.3px;top:305.6px;font-size:8.00px;line-height:8.00px">智能测控仪表</div>
<div class="t" style="left:417.9px;top:340.9px;font-size:8.00px;line-height:8.00px">变压器温控仪</div>
<div class="t" style="left:490.8px;top:341.2px;font-size:7.20px;line-height:7.20px">直流屏</div>
<div class="t m" style="left:440.3px;top:365.1px;font-size:9.47px;line-height:9.47px">用电监测<span class="l">/</span>控制设备</div>
<div class="t" style="left:46.0px;top:281.6px;font-size:8.00px;line-height:8.00px">屋顶光伏<span class="l">/</span>风力发电</div>
<div class="t" style="left:52.9px;top:327.3px;font-size:8.00px;line-height:8.00px">电力公司进线</div>
<div class="t" style="left:143.6px;top:322.5px;font-size:7.95px;line-height:7.95px">智能楼宇配变电室</div>
<div class="t" style="left:211.1px;top:279.9px;font-size:7.97px;line-height:7.97px">用电监测</div>
<div class="t" style="left:105.5px;top:275.7px;font-size:7.87px;line-height:7.87px">综</div>
<div class="t" style="left:105.5px;top:281.7px;font-size:7.87px;line-height:7.87px">合</div>
<div class="t" style="left:105.5px;top:287.7px;font-size:7.87px;line-height:7.87px">能</div>
<div class="t" style="left:105.5px;top:293.7px;font-size:7.87px;line-height:7.87px">源</div>
<!-- /TEXT --><script>
(function(){
var p=document.createElement('span');
p.style.cssText='position:absolute;left:-9999px;top:0;font-family:"Liberation Sans",sans-serif;font-size:100px;white-space:nowrap;letter-spacing:0';
p.textContent='\u667a\u667a\u667a\u667a';
document.body.appendChild(p);
var w=p.getBoundingClientRect().width;
document.body.removeChild(p);
if(w<350) return;
var ds=document.querySelectorAll('div.t');
for(var i=0;i<ds.length;i++){
 var d=ds[i], st=d.style;
 var f=parseFloat(st.fontSize), l=parseFloat(st.left), t=parseFloat(st.top);
 var bold=d.classList.contains('b');
 var x0=l+0.08*f, cy=t+(bold?0.45:0.375)*f;
 var fs=0.75*f;
 st.fontSize=fs+'px'; st.lineHeight=fs+'px';
 st.left=(x0-0.04*fs)+'px'; st.top=(cy-0.5*fs+0.5)+'px';
 st.webkitTextStroke='0'; st.color=bold?'#222':'#4a4a4a';
}
})();
</script>
</body></html>
